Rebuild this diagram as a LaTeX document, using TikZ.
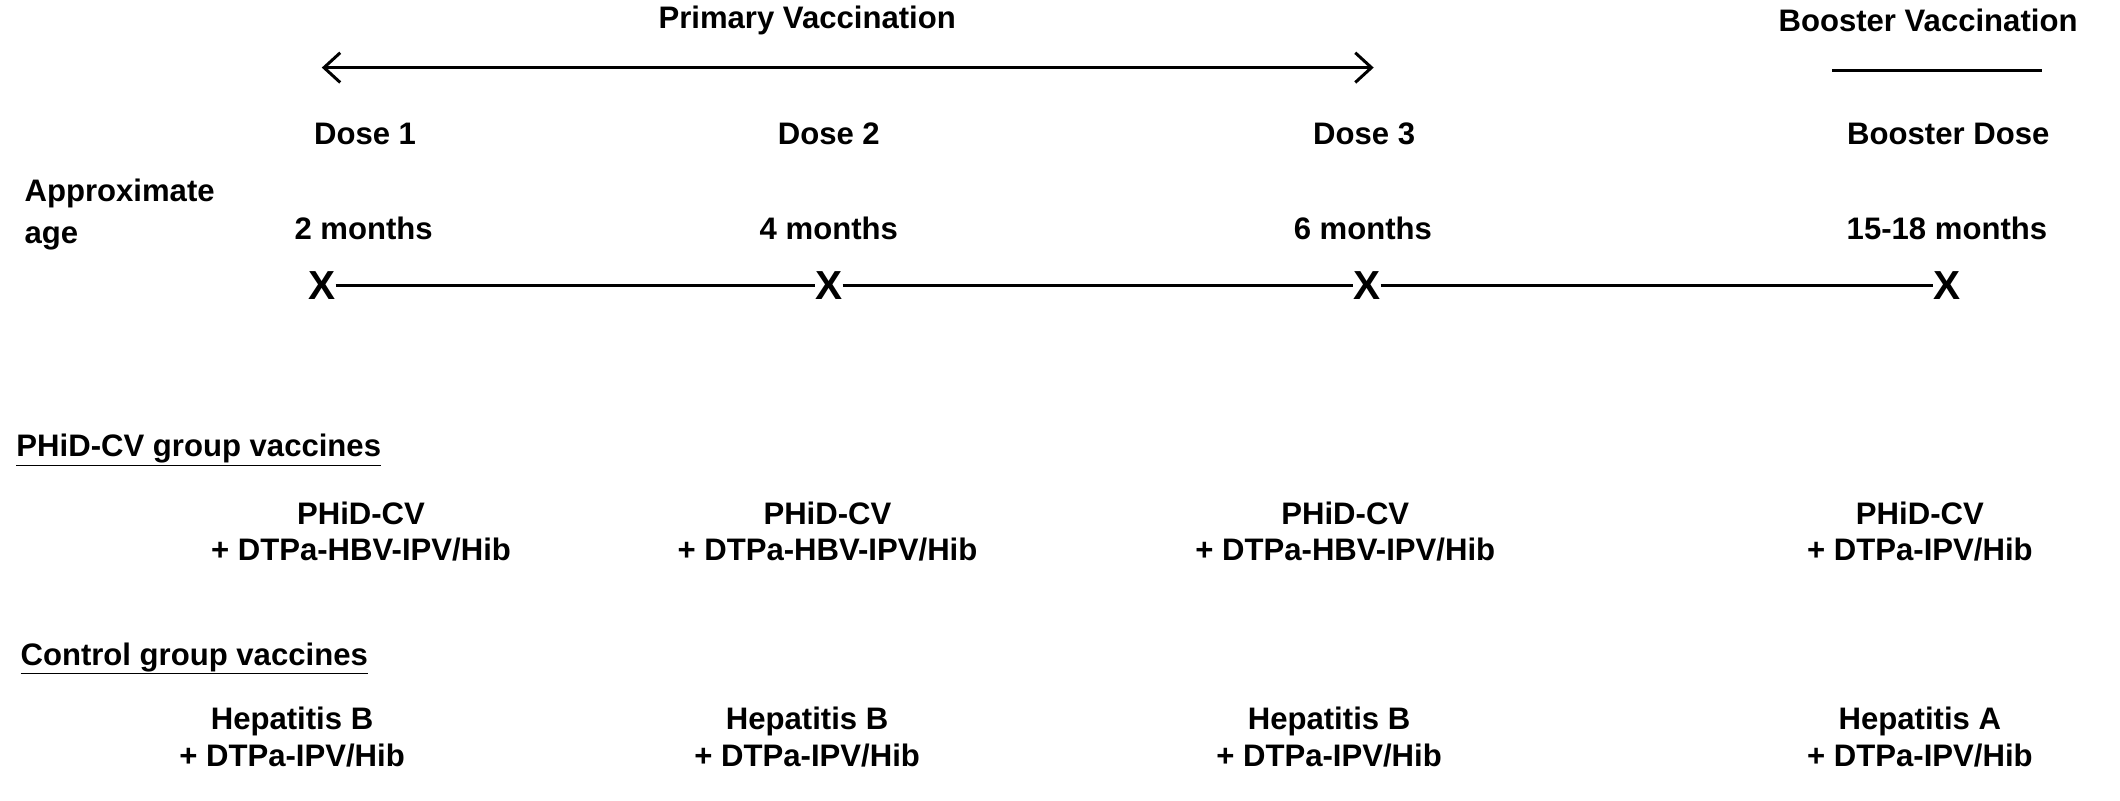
\documentclass[tikz,border=0pt]{standalone}
\usepackage{fontspec}
\setmainfont{Liberation Sans}
\usetikzlibrary{arrows.meta}
\begin{document}
\begin{tikzpicture}[x=1pt,y=-1pt,
  txt/.style={font=\fontsize{23}{27}\selectfont\bfseries, inner sep=0pt, align=center},
  lft/.style={txt, anchor=west, align=left},
  xmk/.style={font=\fontsize{30}{30}\selectfont\bfseries, inner sep=0pt},
  ln/.style={line width=2.2pt}]
\useasboundingbox (0,0) rectangle (1568,592);
\node[txt] (pv) at (597,15) {Primary Vaccination};
\node[txt] (bv) at (1426,15) {Booster Vaccination};
\coordinate (pa) at (238,50); \coordinate (pb) at (1016,50);
\draw[ln,{Straight Barb[length=12pt,width=22pt]}-{Straight Barb[length=12pt,width=22pt]}] (pa) -- (pb);
\coordinate (ba) at (1355,52); \coordinate (bb) at (1510,52);
\draw[ln] (ba) -- (bb);
\node[txt] (d1) at (270,99) {Dose 1};
\node[txt] (d2) at (613,99) {Dose 2};
\node[txt] (d3) at (1009,99) {Dose 3};
\node[txt] (d4) at (1441,99) {Booster Dose};
\node[lft] (ap) at (18,143) {Approximate};
\node[lft] (ag) at (18,176) {age};
\node[txt] (m1) at (269,169) {2 months};
\node[txt] (m2) at (613,169) {4 months};
\node[txt] (m3) at (1008,169) {6 months};
\node[txt] (m4) at (1440,169) {15-18 months};
\node[xmk] (x1) at (238,211) {X};
\node[xmk] (x2) at (613,211) {X};
\node[xmk] (x3) at (1011,211) {X};
\node[xmk] (x4) at (1440,211) {X};
\draw[ln] (x1) -- (x2) (x2) -- (x3) (x3) -- (x4);
\node[lft] (g1) at (12,333) {\underline{PHiD-CV group vaccines}};
\node[txt] (a1) at (267,393) {PHiD-CV\\+ DTPa-HBV-IPV/Hib};
\node[txt] (a2) at (612,393) {PHiD-CV\\+ DTPa-HBV-IPV/Hib};
\node[txt] (a3) at (995,393) {PHiD-CV\\+ DTPa-HBV-IPV/Hib};
\node[txt] (a4) at (1420,393) {PHiD-CV\\+ DTPa-IPV/Hib};
\node[lft] (g2) at (15,487) {\underline{Control group vaccines}};
\node[txt] (c1) at (216,545) {Hepatitis B\\+ DTPa-IPV/Hib};
\node[txt] (c2) at (597,545) {Hepatitis B\\+ DTPa-IPV/Hib};
\node[txt] (c3) at (983,545) {Hepatitis B\\+ DTPa-IPV/Hib};
\node[txt] (c4) at (1420,545) {Hepatitis A\\+ DTPa-IPV/Hib};
\end{tikzpicture}
\end{document}
